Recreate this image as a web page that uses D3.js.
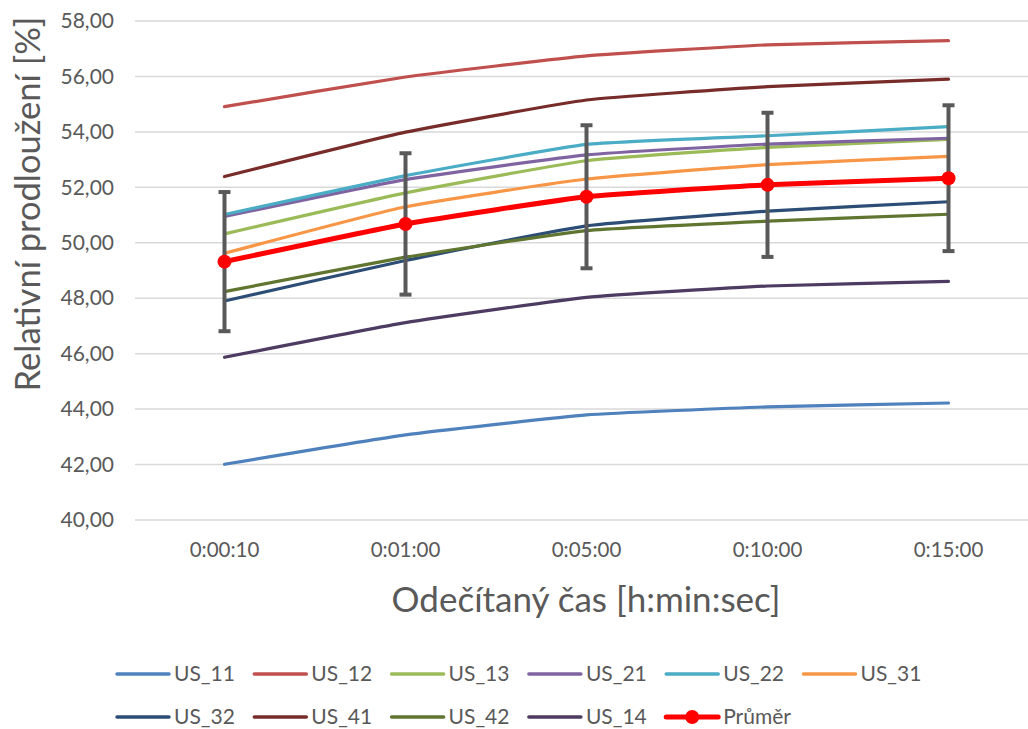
<!DOCTYPE html>
<html>
<head>
<meta charset="utf-8">
<script src="https://cdn.jsdelivr.net/npm/d3@7/dist/d3.min.js"></script>
<style>
  html, body { margin: 0; padding: 0; background: #fff; }
  svg { display: block; font-family: Lato, "Liberation Sans", sans-serif; }
</style>
</head>
<body>
<svg id="chart" width="1028" height="729"></svg>
<script>
// Reading times (category axis)
const times = ["0:00:10", "0:01:00", "0:05:00", "0:10:00", "0:15:00"];

// Relative elongation [%] of each specimen
const US_11 = [42.01, 43.07, 43.79, 44.08, 44.22];
const US_12 = [54.91, 55.98, 56.74, 57.14, 57.29];
const US_13 = [50.32, 51.80, 52.96, 53.44, 53.73];
const US_21 = [50.95, 52.28, 53.17, 53.56, 53.77];
const US_22 = [51.02, 52.42, 53.55, 53.86, 54.19];
const US_31 = [49.62, 51.30, 52.30, 52.82, 53.12];
const US_32 = [47.90, 49.36, 50.61, 51.14, 51.48];
const US_41 = [52.39, 53.99, 55.15, 55.63, 55.90];
const US_42 = [48.24, 49.48, 50.44, 50.78, 51.03];
const US_14 = [45.87, 47.12, 48.03, 48.44, 48.61];

// Average and its error bar half-width
const prumer = [49.32, 50.68, 51.66, 52.09, 52.33];
const prumerErr = [2.51, 2.55, 2.58, 2.60, 2.63];

// Y axis ticks
const yTicks = [40, 42, 44, 46, 48, 50, 52, 54, 56, 58];

const seriesNames = ["US_11", "US_12", "US_13", "US_21", "US_22", "US_31", "US_32", "US_41", "US_42", "US_14"];
const seriesValues = [US_11, US_12, US_13, US_21, US_22, US_31, US_32, US_41, US_42, US_14];
const seriesColors = ["#4F81BD", "#C0504D", "#9BBB59", "#8064A2", "#4BACC6", "#F79646",
                      "#2C4D75", "#772C2A", "#5F7530", "#4D3B62"];

const series = seriesNames.map((name, i) => ({ name, values: seriesValues[i], color: seriesColors[i] }));

const svg = d3.select("#chart");
const textColor = "#595959";

const plot = { left: 134, right: 1039, top: 21, bottom: 520 };

const x = d3.scaleBand().domain(times).range([plot.left, plot.right]);
const y = d3.scaleLinear().domain([40, 58]).range([plot.bottom, plot.top]);
const cx = t => x(t) + x.bandwidth() / 2;

const fmt = v => d3.format(".2f")(v).replace(".", ",");

// Horizontal gridlines
svg.append("g")
  .selectAll("line")
  .data(yTicks)
  .join("line")
  .attr("x1", plot.left + 1)
  .attr("x2", plot.right)
  .attr("y1", d => y(d))
  .attr("y2", d => y(d))
  .attr("stroke", "#D9D9D9")
  .attr("stroke-width", 1.5);

// Y axis labels
const yAxis = svg.append("g")
  .attr("transform", `translate(${plot.left - 20},0)`)
  .call(d3.axisLeft(y).tickValues(yTicks).tickFormat(fmt).tickSize(0).tickPadding(0));
yAxis.select(".domain").remove();
yAxis.selectAll("text")
  .attr("fill", textColor)
  .style("font-size", "21px")
  .style("font-family", "Lato");

// X axis labels
const xAxis = svg.append("g")
  .attr("transform", `translate(0,${plot.bottom + 20})`)
  .call(d3.axisBottom(x).tickSize(0).tickPadding(0));
xAxis.select(".domain").remove();
xAxis.selectAll("text")
  .attr("fill", textColor)
  .attr("dy", "0.85em")
  .style("font-size", "20.5px")
  .style("font-family", "Lato");

// Axis titles
svg.append("text")
  .attr("transform", "translate(40,204) rotate(-90)")
  .attr("text-anchor", "middle")
  .attr("fill", textColor)
  .style("font-size", "34.5px")
  .text("Relativní prodloužení [%]");

svg.append("text")
  .attr("x", 586)
  .attr("y", 612)
  .attr("text-anchor", "middle")
  .attr("fill", textColor)
  .style("font-size", "35px")
  .text("Odečítaný čas [h:min:sec]");

// Specimen lines (lightly smoothed)
const line = d3.line()
  .x((d, i) => cx(times[i]))
  .y(d => y(d))
  .curve(d3.curveCardinal.tension(0.6));

svg.append("g")
  .selectAll("path")
  .data(series)
  .join("path")
  .attr("d", d => line(d.values))
  .attr("fill", "none")
  .attr("stroke", d => d.color)
  .attr("stroke-width", 3.2)
  .attr("stroke-linecap", "round");

// Error bars for the average
const errG = svg.append("g").attr("stroke", "#595959").attr("stroke-width", 4);
times.forEach((t, i) => {
  const xc = cx(t);
  const yTop = y(prumer[i] + prumerErr[i]);
  const yBot = y(prumer[i] - prumerErr[i]);
  errG.append("line").attr("x1", xc).attr("x2", xc).attr("y1", yTop).attr("y2", yBot);
  errG.append("line").attr("x1", xc - 6).attr("x2", xc + 6).attr("y1", yTop).attr("y2", yTop);
  errG.append("line").attr("x1", xc - 6).attr("x2", xc + 6).attr("y1", yBot).attr("y2", yBot);
});

// Average line with markers
svg.append("path")
  .attr("d", line(prumer))
  .attr("fill", "none")
  .attr("stroke", "#FF0000")
  .attr("stroke-width", 5)
  .attr("stroke-linecap", "round");

svg.append("g")
  .selectAll("circle")
  .data(prumer)
  .join("circle")
  .attr("cx", (d, i) => cx(times[i]))
  .attr("cy", d => y(d))
  .attr("r", 7)
  .attr("fill", "#FF0000");

// Legend
const legendItems = series.map(s => ({ name: s.name, color: s.color, marker: false }))
  .concat([{ name: "Průměr", color: "#FF0000", marker: true }]);
const legendStartX = 117, legendStep = 137.3, legendRows = [674, 717], perRow = 6;

const leg = svg.append("g")
  .selectAll("g")
  .data(legendItems)
  .join("g")
  .attr("transform", (d, i) =>
    `translate(${legendStartX + (i % perRow) * legendStep},${legendRows[Math.floor(i / perRow)]})`);

leg.append("line")
  .attr("x1", 0).attr("x2", 52)
  .attr("stroke", d => d.color)
  .attr("stroke-width", d => d.marker ? 5 : 3.5)
  .attr("stroke-linecap", "round");

leg.filter(d => d.marker)
  .append("circle")
  .attr("cx", 26).attr("r", 7)
  .attr("fill", "#FF0000");

leg.append("text")
  .attr("x", 57)
  .attr("dy", "0.35em")
  .attr("fill", textColor)
  .style("font-size", "21px")
  .text(d => d.name);
</script>
</body>
</html>
